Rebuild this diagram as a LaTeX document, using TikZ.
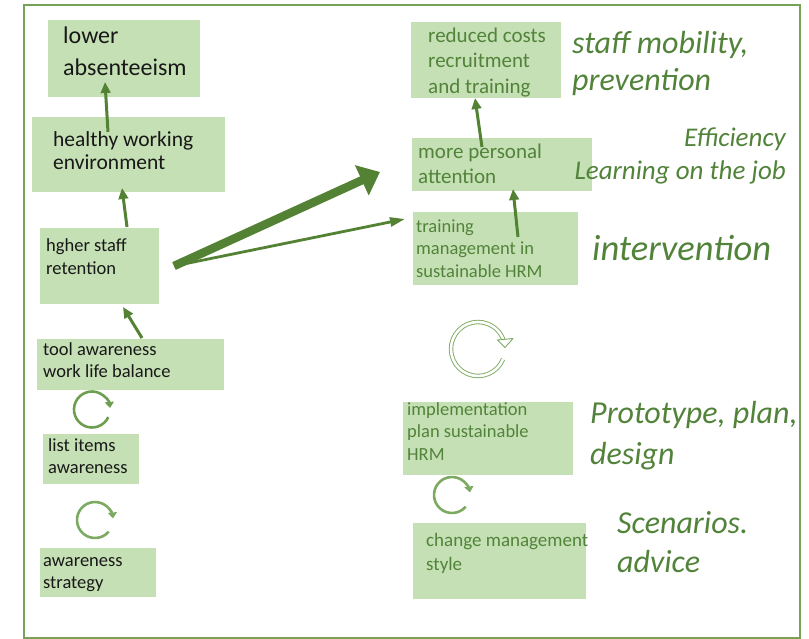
\documentclass[tikz,border=0pt]{standalone}
\usepackage{fontspec}
\setmainfont{Carlito}
\usetikzlibrary{arrows.meta,calc}
\definecolor{boxg}{HTML}{C5E0B4}
\definecolor{arrg}{HTML}{548235}
\definecolor{txtg}{HTML}{52833A}
\definecolor{frameg}{HTML}{76A157}
\definecolor{cycg}{HTML}{6E9E50}
\definecolor{cycl}{HTML}{7CAA60}
\definecolor{darktxt}{HTML}{181818}
\newcommand{\fs}[2]{\fontsize{#1}{#2}\selectfont}
\begin{document}
\begin{tikzpicture}[x=1pt,y=-1pt,
  box/.style={fill=boxg, draw=none, inner sep=0pt, outer sep=0pt, anchor=north west},
  ltxt/.style={anchor=north west, inner sep=0pt, align=left, text=darktxt},
  rtxt/.style={anchor=north west, inner sep=0pt, align=left, text=txtg},
  itxt/.style={anchor=north west, inner sep=0pt, align=left, text=txtg},
  conn/.style={draw=arrg, line width=3pt, -{Triangle[length=11pt,width=9.5pt]}},
  bigarrow/.style={draw=arrg, line width=8.5pt, -{Triangle[length=20pt,width=32pt]}},
  thinarrow/.style={draw=arrg, line width=2.8pt, -{Triangle[length=15pt,width=9pt]}},
  cycsmall/.style={draw=#1, line width=2.6pt, -{Triangle[length=6pt,width=9pt]}},
]
\useasboundingbox (0,0) rectangle (809,639);
\draw[frameg, line width=2pt] (24,5) rectangle (800,638);

% boxes
\node[box, minimum width=152pt, minimum height=77pt] (abs) at (48,20) {};
\node[box, minimum width=193pt, minimum height=75pt] (hea) at (32,117) {};
\node[box, minimum width=119pt, minimum height=76pt] (ret) at (40,228) {};
\node[box, minimum width=187pt, minimum height=51pt] (tool) at (37,339) {};
\node[box, minimum width=96pt, minimum height=50pt] (list) at (43,434) {};
\node[box, minimum width=116pt, minimum height=49pt] (strat) at (40,548) {};
\node[box, minimum width=150pt, minimum height=76pt] (rc) at (411,22) {};
\node[box, minimum width=180pt, minimum height=53pt] (pa) at (412,138) {};
\node[box, minimum width=165pt, minimum height=73pt] (trn) at (413,212) {};
\node[box, minimum width=170pt, minimum height=73pt] (impl) at (403,402) {};
\node[box, minimum width=173pt, minimum height=76pt] (chg) at (413,523) {};

% box texts
\node[ltxt, font=\fs{24}{32}] (absT) at (63,20.6) {\strut lower\\absenteeism};
\node[ltxt, font=\fs{21.5}{23}] (heaT) at (53,129.9) {\strut healthy working\\environment};
\node[ltxt, font=\fs{18.5}{22.5}] (retT) at (46,235.75) {\strut hgher staff\\retention};
\node[ltxt, font=\fs{18.5}{22.5}] (toolT) at (43,339.25) {\strut tool awareness\\work life balance};
\node[ltxt, font=\fs{18.5}{22.5}] (listT) at (48,435.25) {\strut list items\\awareness};
\node[ltxt, font=\fs{18.5}{22}] (stratT) at (43,550.6) {\strut awareness\\strategy};
\node[rtxt, font=\fs{21}{25.5}] (rcT) at (428,24.15) {\strut reduced costs\\recruitment\\and training};
\node[rtxt, font=\fs{21}{25}] (paT) at (418,141) {\strut more personal\\attention};
\node[rtxt, font=\fs{18.5}{22.7}] (trnT) at (416,216.1) {\strut training\\management in\\sustainable HRM};
\node[rtxt, font=\fs{18.5}{22.8}] (implT) at (407,399) {\strut implementation\\plan sustainable\\HRM};
\node[rtxt, font=\fs{19}{24}] (chgT) at (426,529.9) {\strut change management\\style};

% side labels
\node[itxt, font=\fs{32}{37}\itshape] (lab1) at (572,27.1) {\strut staff mobility,\\prevention};
\node[itxt, anchor=north east, align=right, font=\fs{27}{33}\itshape] (lab2) at (786,123.6) {\strut Efficiency\\Learning on the job};
\node[itxt, font=\fs{36.5}{44}\itshape] (lab3) at (592,229.2) {\strut intervention};
\node[itxt, font=\fs{32}{41}\itshape] (lab4) at (590,394.3) {\strut Prototype, plan,\\design};
\node[itxt, font=\fs{32}{39}\itshape] (lab5) at (617,505.7) {\strut Scenarios.\\advice};

% connectors
\draw[conn] ($(hea.north)+(-20.5,15)$) -- ($(abs.south)+(-19,-15)$);
\draw[conn] ($(ret.north)+(27.5,-1)$) -- ($(hea.south)+(-6.5,-4)$);
\draw[conn] ($(tool.north)+(11.5,-1)$) -- ($(ret.south)+(23.5,3)$);
\draw[bigarrow] ($(ret.east)+(15,0)$) -- ($(pa.west)+(-32,7.5)$);
\draw[thinarrow] ($(ret.east)+(15,0)$) -- ($(trn.north west)+(-8,7)$);
\draw[conn] ($(trn.north)+(22.5,25)$) -- ($(pa.south)+(11,-2)$);
\draw[conn] ($(pa.north)+(-20,9)$) -- ($(rc.south)+(-11,0)$);

% cycle icons
\draw[cycsmall=cycg] (92,409.5) ++(25:18) arc (25:355:18);
\draw[cycsmall=cycl] (95,520) ++(40:18) arc (40:355:18);
\draw[cycsmall=cycl] (452,495) ++(40:18) arc (40:352:18);
\draw[cycl, line width=0.9pt, double=white, double distance=2.6pt] (478,349) ++(22:27) arc (22:343:27);
\draw[cycl, line width=0.9pt, fill=white, line join=round] (497.5,340) -- (513,338.5) -- (505,347.5) -- cycle;
\end{tikzpicture}
\end{document}
